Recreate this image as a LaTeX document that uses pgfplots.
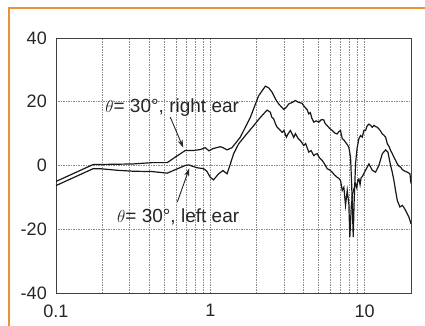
\documentclass[border=0pt]{standalone}
\usepackage{fontspec}
\setmainfont{Liberation Sans}
\usepackage{pgfplots}
\pgfplotsset{compat=1.18}
\usetikzlibrary{arrows.meta}
\definecolor{frameorange}{RGB}{232,146,58}
\definecolor{gridgray}{RGB}{140,140,140}
\begin{document}
\begin{tikzpicture}
\begin{axis}[
  at={(0,0)}, anchor=south west,
  scale only axis, width=355pt, height=255pt,
  xmode=log, xmin=0.1, xmax=20, ymin=-40, ymax=40,
  xtick={0.1,1,10}, xticklabels={0.1,1,10},
  minor xtick={0.2,0.3,0.4,0.5,0.6,0.7,0.8,0.9,2,3,4,5,6,7,8,9},
  ytick={-40,-20,0,20,40}, yticklabels={-40,-20,0,20,40},
  xmajorgrids, xminorgrids, ymajorgrids,
  grid style={gridgray, dash pattern=on 1.5pt off 1pt, line width=0.6pt},
  major tick length=0pt, minor tick length=0pt,
  axis line style={draw=black!75, line width=0.9pt},
  tick label style={font=\fontsize{18}{20}\selectfont, text=black!85},
  xticklabel style={yshift=-8pt},
  yticklabel style={xshift=-5.7pt},
]
% right ear
\addplot[black!90, line width=1.2pt] coordinates {
(0.1,-5.0) (0.174,0.3) (0.25,0.4) (0.318,0.5) (0.42,0.9) (0.510,0.9) (0.526,0.9)
(0.60,2.8) (0.688,4.7) (0.776,4.7) (0.861,5.0) (0.928,5.6) (0.98,4.6) (1.041,5.3)
(1.161,5.9) (1.209,5.6) (1.284,4.9) (1.383,5.6) (1.566,8.9) (1.818,15.1) (2.059,21.9)
(2.276,24.9) (2.40,24.3) (2.515,23.0) (2.65,20.8) (2.777,19.3) (2.992,17.6) (3.10,18.2)
(3.224,19.3) (3.40,19.8) (3.564,20.4) (3.70,19.9) (3.939,19.5) (4.05,18.6) (4.245,17.5)
(4.348,16.2) (4.45,16.6) (4.55,14.9) (4.686,13.6) (4.85,14.0) (5.050,13.6) (5.25,14.4)
(5.441,14.3) (5.55,13.2) (5.725,12.5) (5.95,11.6) (6.170,11.0) (6.40,10.2) (6.648,9.9)
(6.80,10.6) (6.985,11.0) (7.08,9.6) (7.166,8.4) (7.35,8.0) (7.528,7.3) (7.72,6.6)
(7.909,5.7) (8.113,2.6) (8.25,-6) (8.321,-12) (8.446,-22.5) (8.55,-12) (8.742,0.6)
(8.95,5.5) (9.185,8.4) (9.42,9.4) (9.662,8.9) (9.897,11.0) (10.15,11.0) (10.41,12.5)
(10.67,13.0) (10.94,12.6) (11.22,12.0) (11.50,12.6) (11.79,12.2) (12.10,12.0)
(12.38,11.5) (12.70,10.8) (13.03,9.9) (13.35,9.5) (13.69,8.9) (14.05,6.8) (14.40,6.0)
(14.75,4.7) (15.10,3.8) (15.50,2.6) (15.90,1.6) (16.31,0.5) (16.70,-0.2) (17.13,-0.5)
(17.57,-1.3) (18.00,-1.6) (18.46,-1.9) (18.94,-2.1) (19.40,-2.4) (19.69,-2.6) (20,-5.7)
};
% left ear
\addplot[black!90, line width=1.2pt] coordinates {
(0.1,-6.3) (0.174,-1.0) (0.193,-1.0) (0.25,-1.5) (0.318,-1.8) (0.42,-1.9) (0.526,-2.4)
(0.60,-1.2) (0.688,0.0) (0.723,0.2) (0.820,-0.7) (0.905,-1.0) (0.95,-1.8) (1.0,-3.7)
(1.05,-4.5) (1.132,-2.6) (1.209,-1.6) (1.284,-2.6) (1.349,0.5) (1.417,3.7) (1.527,6.8)
(1.688,9.4) (1.911,12.5) (2.112,15.1) (2.335,17.4) (2.453,16.7) (2.50,15.2) (2.576,14.6)
(2.65,13.0) (2.711,12.0) (2.80,11.4) (2.922,10.4) (3.00,11.0) (3.115,8.9) (3.20,10.0)
(3.307,11.0) (3.40,9.8) (3.474,8.8) (3.564,10.0) (3.70,8.6) (3.84,7.8) (4.035,6.3)
(4.15,6.9) (4.348,4.2) (4.50,4.7) (4.686,3.1) (4.80,3.5) (4.931,3.7) (5.10,2.4)
(5.313,1.6) (5.50,0.5) (5.725,-1.0) (5.95,-1.4) (6.170,-2.1) (6.40,-3.0) (6.648,-3.7)
(6.80,-4.0) (6.985,-4.7) (7.166,-7.8) (7.340,-6.8) (7.528,-12.5) (7.722,-7.8)
(7.909,-12.0) (8.027,-22.5) (8.197,-13.0) (8.359,-9.0) (8.50,-7.5) (8.742,-5.7)
(8.90,-7.0) (9.05,-4.5) (9.185,-4.2) (9.35,-6.0) (9.50,-3.8) (9.662,-3.5) (9.90,-2.5)
(10.15,-1.5) (10.41,-0.5) (10.67,0.5) (10.94,-0.5) (11.22,-1.5) (11.79,-2.1)
(12.38,0.0) (13.03,3.7) (13.69,4.9) (14.17,4.2) (14.75,0.0) (15.10,-2.0) (15.50,-4.7)
(15.90,-8.0) (16.31,-11.0) (16.95,-13.0) (17.57,-12.5) (18.00,-13.2) (18.46,-14.1)
(18.94,-15.2) (19.40,-16.2) (20,-18.3)
};
\node[font=\fontsize{19}{21}\selectfont, text=black!85, anchor=base west, inner sep=0pt] at (axis cs:0.208,16.6) {$\theta$= 30°, right ear};
\node[font=\fontsize{19}{21}\selectfont, text=black!85, anchor=base west, inner sep=0pt] at (axis cs:0.248,-17.8) {$\theta$= 30°, left ear};
\draw[black!85, line width=0.9pt, -{Stealth[length=8pt,width=5pt]}] (axis cs:0.55,15.2) -- (axis cs:0.668,5.6);
\draw[black!85, line width=0.9pt, -{Stealth[length=8pt,width=5pt]}] (axis cs:0.611,-11.5) -- (axis cs:0.731,-0.9);
\end{axis}
\draw[frameorange, line width=2pt] (-47pt,-40pt) -- (-47pt,285pt) -- (375pt,285pt);
\pgfresetboundingbox
\path[use as bounding box] (-56pt,-32pt) rectangle (369pt,293pt);
\end{tikzpicture}
\end{document}
